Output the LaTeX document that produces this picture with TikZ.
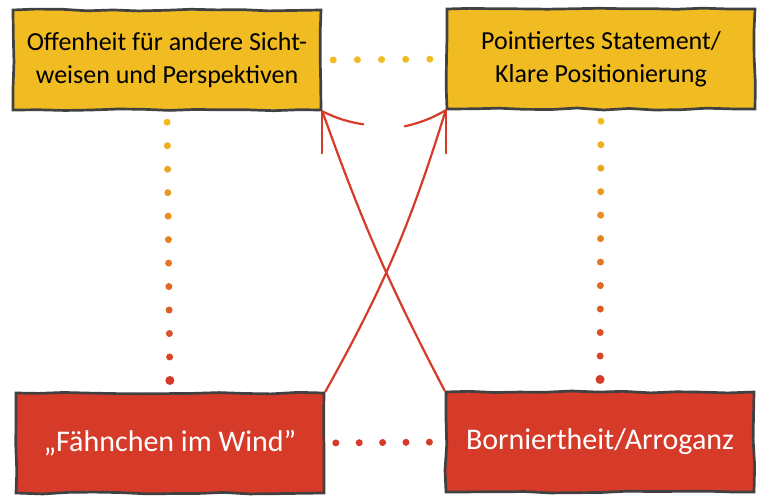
\documentclass[tikz,border=0pt]{standalone}
\usepackage{fontspec}
\setmainfont{Carlito}
\usetikzlibrary{arrows.meta, positioning, calc, decorations.pathmorphing}
\definecolor{boxyellow}{HTML}{F1BC22}
\definecolor{boxred}{HTML}{D63A29}
\definecolor{boxedge}{HTML}{414141}

\begin{document}
\begin{tikzpicture}[
      x=1pt, y=-1pt,
      box/.style={
        rectangle,
        draw=boxedge,
        line width=2.7pt,
        minimum width=308pt,
        minimum height=100pt,
        inner sep=0pt,
        align=center,
        decorate,
        decoration={random steps, segment length=26pt, amplitude=1pt}
      },
      pro/.style={box, fill=boxyellow, font=\fontsize{26}{33}\selectfont},
      contra/.style={box, fill=boxred, text=white, font=\fontsize{30}{34}\selectfont},
      cross/.style={draw=boxred, line width=2.2pt, line cap=round}
    ]
      \pgfmathsetseed{7}
      \useasboundingbox (0,0) rectangle (757,495);

      \node[pro] (offen) at (167,60) {Offenheit für andere Sicht-\\weisen und Perspektiven};
      \node[pro] (pointiert) at (601,59) {Pointiertes Statement/\\Klare Positionierung};
      \node[contra] (faehnchen) at (170,443) {„Fähnchen im Wind"};
      \node[contra] (borniert) at (600,442) {Borniertheit/Arroganz};

      % dotted links
      \foreach \i in {0,...,4} {
        \pgfmathsetmacro\t{(11+\i*24.5)/125}
        \fill[boxyellow] ($(offen.east)!\t!(pointiert.west)$) circle (3.5pt);
        \fill[boxred] ($(faehnchen.east)!\t!(borniert.west)$) circle (3.5pt);
      }
      \foreach \i in {0,...,11} {
        \pgfmathsetmacro\t{(11+\i*23.7)/283}
        \pgfmathsetmacro\p{100-\i*100/11}
        \pgfmathsetmacro\r{\i==11 ? 4.5 : 3.5}
        \fill[boxyellow!\p!boxred] ($(offen.south)!\t!(faehnchen.north)$) circle (\r pt);
        \fill[boxyellow!\p!boxred] ($(pointiert.south)!\t!(borniert.north)$) circle (\r pt);
      }

      % crossing arrows
      \draw[cross] (faehnchen.north east) to[bend right=6] (pointiert.south west);
      \draw[cross] (borniert.north west) to[bend left=4] (offen.south east);

      \coordinate (barbL1) at ($(offen.south east)+(41,13)$);
      \coordinate (barbL2) at ($(offen.south east)+(0,42)$);
      \coordinate (barbR1) at ($(pointiert.south west)+(-41,16)$);
      \coordinate (barbR2) at ($(pointiert.south west)+(0,43)$);

      \draw[cross] (offen.south east) to[bend right=8] (barbL1);
      \draw[cross] (offen.south east) -- (barbL2);
      \draw[cross] (pointiert.south west) to[bend left=8] (barbR1);
      \draw[cross] (pointiert.south west) -- (barbR2);
    \end{tikzpicture}
\end{document}
